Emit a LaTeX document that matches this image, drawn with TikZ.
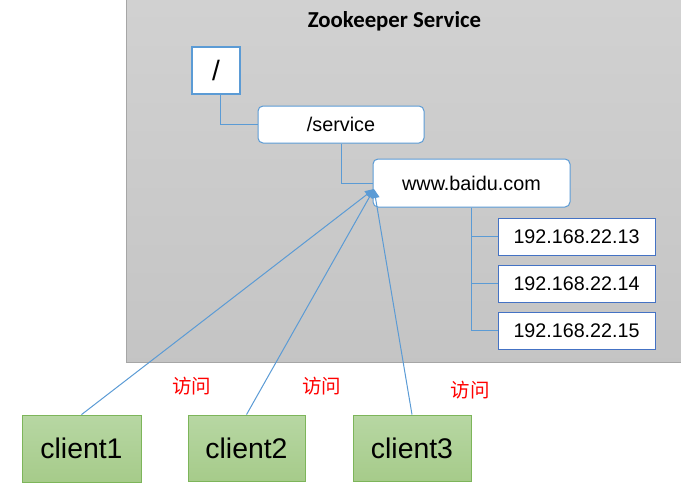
\documentclass[tikz,border=0pt]{standalone}
\usepackage{fontspec}
\setmainfont{Liberation Sans}
\newfontfamily\titlefont{Carlito}
\newfontfamily\cjk{Noto Sans CJK SC}
\usetikzlibrary{arrows.meta}
\definecolor{lineblue}{HTML}{5B9BD5}
\definecolor{ipblue}{HTML}{4472C4}
\definecolor{greenfill}{HTML}{A6CB8A}
\definecolor{greentop}{HTML}{B7D7A3}
\definecolor{greenedge}{HTML}{7DB55A}
\tikzset{
  px/.style={x=1pt,y=-1pt},
  treebox/.style={draw=lineblue,line width=1pt,fill=white,rounded corners=5pt,inner sep=0pt,font=\fontsize{19.8}{23}\selectfont},
  rootbox/.style={draw=lineblue,line width=1.2pt,fill=white,inner sep=0pt,font=\fontsize{28}{32}\selectfont},
  ipbox/.style={draw=ipblue,line width=1pt,fill=white,inner sep=0pt,font=\fontsize{19.7}{23}\selectfont},
  clientbox/.style={draw=greenedge,line width=0.8pt,top color=greentop,bottom color=greenfill,inner sep=0pt,font=\fontsize{28.4}{32}\selectfont},
  tree/.style={draw=lineblue,line width=0.8pt},
  access/.style={draw=lineblue,line width=1pt,-{Triangle[length=9pt,width=8pt]}},
  visit/.style={text=red,font=\cjk\fontsize{19.5}{22}\selectfont}
}
\begin{document}
\begin{tikzpicture}[px]
\useasboundingbox (0,0) rectangle (681,493);
% service area
\shade[top color=black!18,bottom color=black!23] (126,0) rectangle (681,362);
\draw[black!35,line width=1pt] (126,0) -- (126,362) -- (681,362);
\node[font=\titlefont\bfseries\fontsize{22.8}{26}\selectfont] (title) at (394.5,21) {Zookeeper Service};
% tree nodes
\node[rootbox,minimum width=48pt,minimum height=47pt] (root) at (216,70.5) {/};
\node[treebox,minimum width=166pt,minimum height=37pt] (svc) at (341,124.5) {/service};
\node[treebox,minimum width=197pt,minimum height=48pt] (www) at (471.5,183) {www.baidu.com};
\node[ipbox,minimum width=157pt,minimum height=37pt] (ip1) at (576.5,236.5) {192.168.22.13};
\node[ipbox,minimum width=157pt,minimum height=37pt] (ip2) at (576.5,283.5) {192.168.22.14};
\node[ipbox,minimum width=157pt,minimum height=37pt] (ip3) at (576.5,330.5) {192.168.22.15};
% tree connectors
\draw[tree] (220,94) |- (svc.west);
\draw[tree] (svc.south) |- (www.west);
\draw[tree] (www.south) |- (ip1.west);
\draw[tree] (www.south) |- (ip2.west);
\draw[tree] (www.south) |- (ip3.west);
% clients
\node[clientbox,minimum width=119pt,minimum height=67pt] (c1) at (81.5,448.5) {client1};
\node[clientbox,minimum width=117pt,minimum height=66pt] (c2) at (246.5,448) {client2};
\node[clientbox,minimum width=118pt,minimum height=66pt] (c3) at (412,448) {client3};
\coordinate (tip) at (374,189);
\draw[access] (c1.north) -- (tip);
\draw[access] (c2.north) -- (tip);
\draw[access] (c3.north) -- (tip);
\node[visit] (v1) at (191.5,386) {访问};
\node[visit] (v2) at (321.5,386) {访问};
\node[visit] (v3) at (470,390) {访问};
\end{tikzpicture}
\end{document}
